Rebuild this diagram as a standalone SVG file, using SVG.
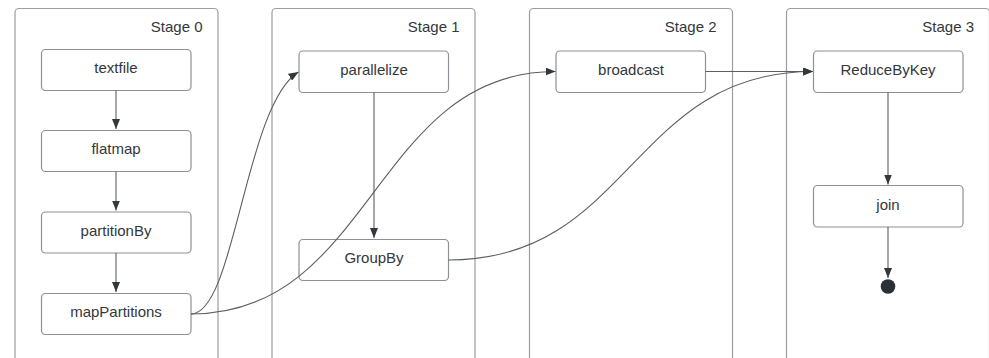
<svg xmlns="http://www.w3.org/2000/svg" width="989" height="358" viewBox="0 0 989 358">
  <style>
    .stage { fill: #ffffff; stroke: #9a9da2; stroke-width: 1.2; }
    .stage-label { font-family: "Liberation Sans", Arial, sans-serif; font-size: 15px; fill: #34373c; text-anchor: end; }
    .box { fill: #ffffff; stroke: #8d9095; stroke-width: 1.2; }
    .label { font-family: "Liberation Sans", Arial, sans-serif; font-size: 15px; fill: #34373c; text-anchor: middle; }
    .edge { fill: none; stroke: #5b5e63; stroke-width: 1.1; }
    .arrow { marker-end: url(#head); }
  </style>
  <defs>
    <marker id="head" markerUnits="userSpaceOnUse" markerWidth="10" markerHeight="8" refX="10" refY="4" orient="auto">
      <path d="M0,0 L10,4 L0,8 z" fill="#34373c"/>
    </marker>
  </defs>

  <rect width="989" height="358" fill="#ffffff"/>

  <!-- stage frames -->
  <g id="stage-0">
    <rect class="stage" x="15" y="8.5" width="203" height="370" rx="4"/>
    <text class="stage-label" x="202.5" y="32">Stage 0</text>
  </g>
  <g id="stage-1">
    <rect class="stage" x="272" y="8.5" width="203" height="370" rx="4"/>
    <text class="stage-label" x="459.5" y="32">Stage 1</text>
  </g>
  <g id="stage-2">
    <rect class="stage" x="529.5" y="8.5" width="203" height="370" rx="4"/>
    <text class="stage-label" x="716.5" y="32">Stage 2</text>
  </g>
  <g id="stage-3">
    <rect class="stage" x="786.5" y="8.5" width="203" height="370" rx="4"/>
    <text class="stage-label" x="974" y="32">Stage 3</text>
  </g>

  <!-- stage 0 nodes -->
  <g id="textfile">
    <rect class="box" x="41.5" y="49.5" width="149.5" height="41" rx="4"/>
    <text class="label" x="116" y="73">textfile</text>
  </g>
  <g id="flatmap">
    <rect class="box" x="41.5" y="130.5" width="149.5" height="41" rx="4"/>
    <text class="label" x="116" y="154">flatmap</text>
  </g>
  <g id="partitionBy">
    <rect class="box" x="41.5" y="212" width="149.5" height="41" rx="4"/>
    <text class="label" x="116" y="235.5">partitionBy</text>
  </g>
  <g id="mapPartitions">
    <rect class="box" x="41.5" y="293.5" width="149.5" height="41" rx="4"/>
    <text class="label" x="116" y="317">mapPartitions</text>
  </g>

  <!-- stage 1 nodes -->
  <g id="parallelize">
    <rect class="box" x="299" y="51" width="149.5" height="41.5" rx="4"/>
    <text class="label" x="374" y="75">parallelize</text>
  </g>
  <g id="GroupBy">
    <rect class="box" x="299" y="239.5" width="149.5" height="41" rx="4"/>
    <text class="label" x="374" y="263">GroupBy</text>
  </g>

  <!-- stage 2 nodes -->
  <g id="broadcast">
    <rect class="box" x="556" y="51" width="149.5" height="41.5" rx="4"/>
    <text class="label" x="631" y="75">broadcast</text>
  </g>

  <!-- stage 3 nodes -->
  <g id="ReduceByKey">
    <rect class="box" x="813.5" y="51" width="149.5" height="41.5" rx="4"/>
    <text class="label" x="888" y="75">ReduceByKey</text>
  </g>
  <g id="join">
    <rect class="box" x="813.5" y="185.5" width="149.5" height="41.5" rx="4"/>
    <text class="label" x="888" y="209.5">join</text>
  </g>
  <g id="end">
    <circle cx="888" cy="286.5" r="7.3" fill="#2b2f36"/>
  </g>

  <!-- connectors, drawn above the nodes so crossing curves stay visible -->
  <g id="connectors">
    <line class="edge arrow" x1="116" y1="90.5" x2="116" y2="129"/>
    <line class="edge arrow" x1="116" y1="171.5" x2="116" y2="210.5"/>
    <line class="edge arrow" x1="116" y1="253" x2="116" y2="292"/>
    <line class="edge arrow" x1="374" y1="92.5" x2="374" y2="238"/>
    <line class="edge arrow" x1="888" y1="92.5" x2="888" y2="184.5"/>
    <line class="edge arrow" x1="888" y1="227" x2="888" y2="278"/>
    <line class="edge arrow" x1="705.5" y1="71.5" x2="813" y2="71.5"/>
    <path class="edge arrow" d="M191,314 C235,314 245,105 298.5,72"/>
    <path class="edge arrow" d="M191,314 C373,314 374,71.5 555.5,71.5"/>
    <path class="edge arrow" d="M448.5,260 C631,260 631,71.5 813,71.5"/>
  </g>
</svg>
